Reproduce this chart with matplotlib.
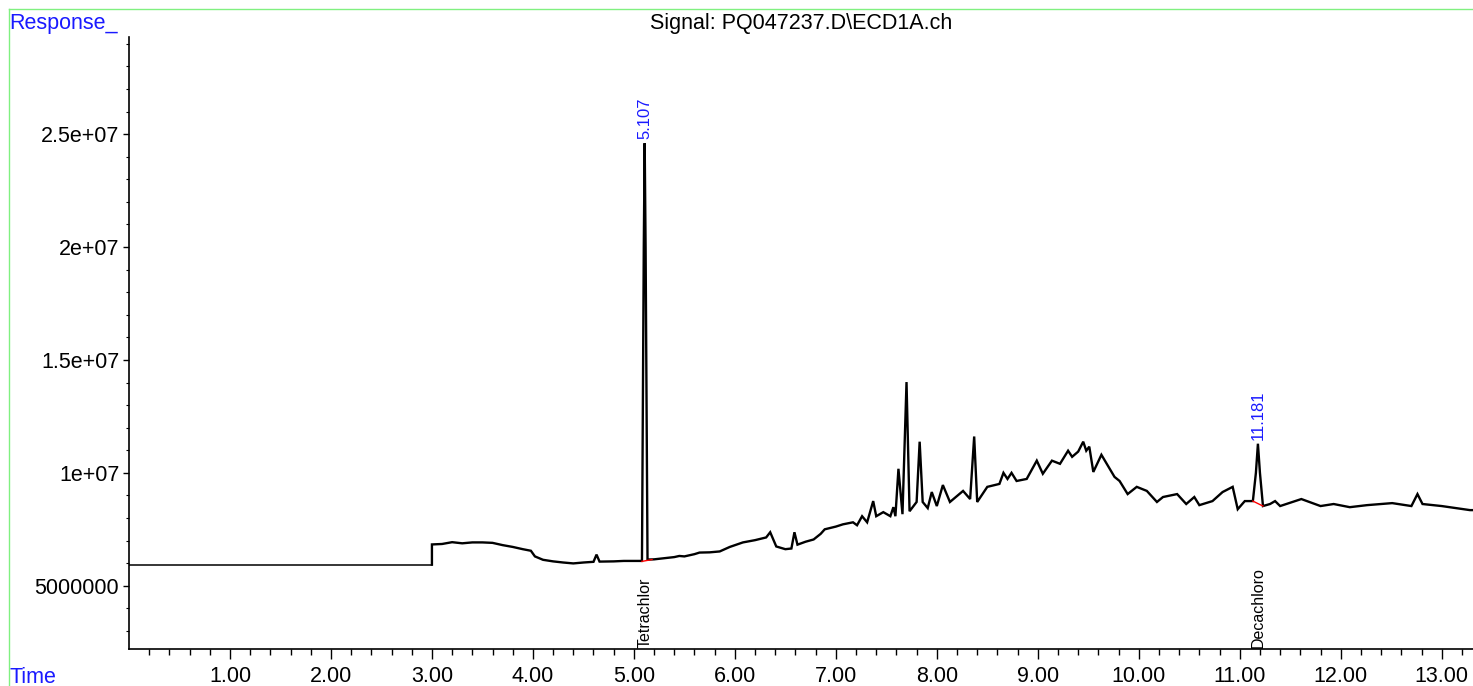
import numpy as np
import matplotlib
matplotlib.use("Agg")
import matplotlib.pyplot as plt
from matplotlib.lines import Line2D
from matplotlib.ticker import MultipleLocator, FixedLocator, FixedFormatter

plt.rcParams['font.family'] = ['Liberation Sans', 'DejaVu Sans']

# chromatogram trace (time in min, response in millions)
time = [0.0, 3.0, 3.0, 3.1, 3.2, 3.3, 3.4, 3.5, 3.6, 3.7, 3.8, 3.9, 3.98,
        4.02, 4.1, 4.2, 4.3, 4.4, 4.5, 4.6, 4.63, 4.66, 4.8, 4.9, 5.0,
        5.08, 5.098, 5.107, 5.116, 5.135, 5.2, 5.3, 5.4, 5.45, 5.5, 5.6,
        5.65, 5.75, 5.85, 5.95, 6.08, 6.2, 6.31, 6.35, 6.38, 6.41, 6.5,
        6.56, 6.59, 6.62, 6.7, 6.78, 6.85, 6.89, 7.0, 7.07, 7.17, 7.21,
        7.26, 7.31, 7.37, 7.40, 7.47, 7.54, 7.57, 7.59, 7.62, 7.66, 7.70,
        7.73, 7.80, 7.83, 7.86, 7.91, 7.95, 8.0, 8.06, 8.13, 8.26, 8.33,
        8.37, 8.40, 8.50, 8.62, 8.66, 8.70, 8.74, 8.79, 8.89, 8.99, 9.05,
        9.14, 9.22, 9.30, 9.34, 9.40, 9.45, 9.48, 9.51, 9.55, 9.63, 9.76,
        9.81, 9.89, 9.98, 10.08, 10.18, 10.24, 10.38, 10.47, 10.55, 10.60,
        10.73, 10.83, 10.93, 10.98, 11.05, 11.13, 11.16, 11.18, 11.20,
        11.23, 11.30, 11.35, 11.40, 11.61, 11.80, 11.93, 12.09, 12.26,
        12.51, 12.70, 12.76, 12.81, 13.00, 13.28, 13.31]
response = [5.94, 5.94, 6.83, 6.85, 6.93, 6.88, 6.92, 6.92, 6.90, 6.80, 6.72,
            6.62, 6.55, 6.30, 6.15, 6.08, 6.03, 5.99, 6.03, 6.06, 6.38, 6.07,
            6.08, 6.10, 6.10, 6.10, 20.0, 24.6, 20.0, 6.16, 6.17, 6.22, 6.27,
            6.32, 6.30, 6.40, 6.47, 6.48, 6.52, 6.72, 6.92, 7.02, 7.14, 7.37,
            7.05, 6.74, 6.62, 6.65, 7.37, 6.82, 6.95, 7.05, 7.30, 7.50, 7.62,
            7.72, 7.81, 7.68, 8.08, 7.81, 8.75, 8.08, 8.26, 8.08, 8.48, 8.08,
            10.18, 8.17, 14.02, 8.30, 8.71, 11.38, 8.71, 8.44, 9.15, 8.53,
            9.46, 8.71, 9.20, 8.84, 11.61, 8.71, 9.38, 9.51, 10.0, 9.73, 10.0,
            9.64, 9.73, 10.54, 9.96, 10.54, 10.40, 10.98, 10.71, 10.94, 11.38,
            10.98, 11.16, 10.04, 10.80, 9.82, 9.64, 9.06, 9.38, 9.20, 8.71,
            8.93, 9.06, 8.62, 8.93, 8.57, 8.75, 9.15, 9.38, 8.39, 8.75, 8.75,
            10.0, 11.29, 10.0, 8.53, 8.62, 8.75, 8.53, 8.84, 8.53, 8.62, 8.48,
            8.57, 8.66, 8.53, 9.06, 8.62, 8.53, 8.35, 8.35]

# integrated peaks
peak_rt = [5.107, 11.181]
peak_top = [24.6, 11.29]
peak_names = ["Tetrachlor", "Decachloro"]
base_start = [(5.08, 6.08), (11.13, 8.75)]
base_end = [(5.18, 6.16), (11.23, 8.53)]

t = np.array(time)
r = np.array(response) * 1e6

fig = plt.figure(figsize=(14.73, 6.86), dpi=100)
ax = fig.add_axes([129 / 1473, 1 - 649 / 686, 1 - 129 / 1473, (649 - 37) / 686])

# flat part before the detector switches on is a thin line, the rest is noisy/thick
ax.plot(t[:2], r[:2], color='black', lw=1.1)
ax.plot(t[1:], r[1:], color='black', lw=1.7, solid_joinstyle='miter')
for (x0, y0), (x1, y1) in zip(base_start, base_end):
    ax.plot([x0, x1], [y0 * 1e6, y1 * 1e6], color='red', lw=1)

for rt, top in zip(peak_rt, peak_top):
    ax.annotate("%.3f" % rt, xy=(rt, top * 1e6), xytext=(0, 3),
                textcoords='offset points', rotation=90, ha='center',
                va='bottom', color='#1a1aff', fontsize=12)
for rt, name in zip(peak_rt, peak_names):
    ax.text(rt, 0.002, name, transform=ax.get_xaxis_transform(), rotation=90,
            ha='center', va='bottom', fontsize=11.5, color='black')

ax.set_xlim(0, 13.31)
ax.set_ylim(2.2e6, 2.93e7)
ax.xaxis.set_major_locator(FixedLocator(np.arange(1, 14)))
ax.xaxis.set_minor_locator(FixedLocator(np.arange(0.2, 13.31, 0.2)))
ax.xaxis.set_major_formatter(lambda v, p: "%.2f" % v)
yt = [5e6, 1e7, 1.5e7, 2e7, 2.5e7]
ax.yaxis.set_major_locator(FixedLocator(yt))
ax.yaxis.set_major_formatter(FixedFormatter(["5000000", "1e+07", "1.5e+07", "2e+07", "2.5e+07"]))
ax.yaxis.set_minor_locator(MultipleLocator(1e6))
ax.tick_params(axis='x', which='major', length=7, width=1, labelsize=15.5, pad=5)
ax.tick_params(axis='x', which='minor', length=4, width=1)
ax.tick_params(axis='y', which='major', length=4, width=1, labelsize=15.5, pad=3)
ax.tick_params(axis='y', which='minor', length=2, width=0.8)
for s in ['top', 'right']:
    ax.spines[s].set_visible(False)
for s in ['left', 'bottom']:
    ax.spines[s].set_linewidth(1.2)

ax.set_title(r"Signal: PQ047237.D\ECD1A.ch", fontsize=15.5, pad=6)

# frame and corner labels
fig.add_artist(Line2D([8.5 / 1473, 8.5 / 1473], [0, 1 - 9 / 686], color='#80f080', lw=1))
fig.add_artist(Line2D([8.5 / 1473, 1], [1 - 9 / 686, 1 - 9 / 686], color='#80f080', lw=1))
fig.text(9 / 1473, 1 - 29 / 686, "Response_", color='#1a1aff', fontsize=15.5, va='baseline')
fig.text(9 / 1473, 1 - 683 / 686, "Time", color='#1a1aff', fontsize=15.5, va='baseline')

fig.savefig("out.png", dpi=100)
